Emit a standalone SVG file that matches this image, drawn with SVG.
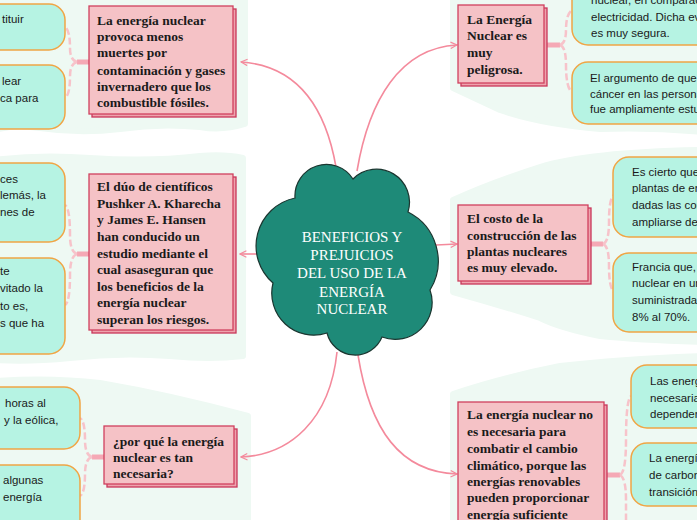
<svg xmlns="http://www.w3.org/2000/svg" width="697" height="520" viewBox="0 0 697 520">
<defs>
<style>
.bg{fill:#eef9f3;stroke:#eef9f3;stroke-width:6;stroke-linejoin:round}
.sh{fill:#eea3ad;stroke:#c9375a;stroke-width:1.3}
.pk{fill:#f5c2c6;stroke:#d0405e;stroke-width:1.3}
.tl{fill:#b6f3e3;stroke:#f0a545;stroke-width:1.5}
.pt{font-family:"Liberation Serif",serif;font-weight:bold;font-size:13.5px;fill:#1a1a1a}
.tt{font-family:"Liberation Sans",sans-serif;font-size:11.5px;fill:#1a1a1a}
.ct{font-family:"Liberation Serif",serif;font-size:15px;fill:#ffffff;text-anchor:middle}
.stub{stroke:#f5a9b5;stroke-width:5;fill:none}
.br{stroke:#f7c3ca;stroke-width:2.5;fill:none;stroke-dasharray:7 3}
.cn{stroke:#f48a9c;stroke-width:1.6;fill:none}
</style>
<marker id="ar" viewBox="0 0 10 10" refX="9" refY="5" markerWidth="8" markerHeight="8" orient="auto" markerUnits="userSpaceOnUse">
<path d="M1,1 L9,5 L1,9" fill="none" stroke="#f48a9c" stroke-width="1.5"/>
</marker>
</defs>
<rect width="697" height="520" fill="#ffffff"/>
<g id="backgrounds">
<path class="bg" d="M-5,-5 H245 V124 Q222,131 200,127 Q160,123 120,129 Q80,134 40,128 Q15,124 -5,130 Z"/>
<path class="bg" d="M-5,160 Q40,154 90,158 Q150,162 200,156 Q225,154 243,158 V356 Q210,360 170,356 Q120,352 70,358 Q30,362 -5,360 Z"/>
<path class="bg" d="M-5,381 Q50,377 100,383 Q170,395 248,416 V525 H-5 Z"/>
<path class="bg" d="M453,-5 H702 V132 Q650,127 600,129 Q540,124 500,110 Q470,96 453,88 Z"/>
<path class="bg" d="M453,200 Q490,183 540,167 Q590,152 702,150 V342 Q640,340 600,336 Q560,328 540,318 Q500,305 453,292 Z"/>
<path class="bg" d="M453,394 Q500,378 560,366 Q620,359 702,356 V525 H453 Z"/>
</g>
<g id="connectors">
<path class="cn" d="M336,167 C326,110 300,66 241,62" marker-end="url(#ar)"/>
<path class="cn" d="M357,171 C369,100 400,48 457,45" marker-end="url(#ar)"/>
<path class="cn" d="M258,254 L240,254" marker-end="url(#ar)"/>
<path class="cn" d="M436,245 L457,244" marker-end="url(#ar)"/>
<path class="cn" d="M337,352 C330,420 290,455 241,457" marker-end="url(#ar)"/>
<path class="cn" d="M358,355 C370,430 400,472 457,474" marker-end="url(#ar)"/>
<path class="stub" d="M89,62 H77"/>
<path class="br" d="M77,62 Q70,60 70,48 Q70,30 65,27 M77,62 Q70,64 70,76 Q70,95 65,98"/>
<path class="stub" d="M89,254 H77"/>
<path class="br" d="M77,254 Q70,252 70,235 Q70,208 65,205 M77,254 Q70,256 70,275 Q70,302 65,305"/>
<path class="stub" d="M104,457 H92"/>
<path class="br" d="M92,457 Q85,455 85,440 Q85,421 80,418 M92,457 Q85,459 85,474 Q85,493 80,496"/>
<path class="stub" d="M547,45 H560"/>
<path class="br" d="M560,45 Q566,43 566,30 Q566,14 572,10 M560,45 Q566,47 566,65 Q566,88 572,92"/>
<path class="stub" d="M590,244 H603"/>
<path class="br" d="M603,244 Q609,242 609,222 Q609,198 614,195 M603,244 Q609,246 609,266 Q609,288 614,292"/>
<path class="stub" d="M607,475 H620"/>
<path class="br" d="M620,475 Q626,472 626,440 Q626,400 631,396 M620,475 Q626,478 626,500 L626,525"/>
</g>
<g id="center">
<path d="M353,179 A33 33 0 0 1 408,212 A55 55 0 0 1 430,290 A37 37 0 0 1 382,337 A29 29 0 0 1 327,333 A42 42 0 0 1 273,283 A49 49 0 0 1 295,198 A31.5 31.5 0 0 1 353,179 Z" fill="#1e8a78" stroke="#1b3630" stroke-width="1.2"/>
<text class="ct" x="352" y="242">BENEFICIOS Y</text>
<text class="ct" x="352" y="260">PREJUICIOS </text>
<text class="ct" x="352" y="278">DEL USO DE LA</text>
<text class="ct" x="352" y="297">ENERGÍA</text>
<text class="ct" x="352" y="314">NUCLEAR</text>
</g>
<g id="n-left-top">
<rect class="sh" x="92" y="9" width="144" height="108"/>
<rect class="pk" x="89" y="6" width="144" height="108"/>
<text class="pt" x="97" y="25">La energía nuclear</text>
<text class="pt" x="97" y="41">provoca menos</text>
<text class="pt" x="97" y="57">muertes por</text>
<text class="pt" x="97" y="75">contaminación y gases</text>
<text class="pt" x="97" y="91">invernadero que los</text>
<text class="pt" x="97" y="107">combustible fósiles.</text>
</g>
<g id="n-left-top-a">
<rect class="tl" x="-120" y="4" width="185" height="46" rx="16"/>
<text class="tt" x="2" y="23">tituir</text>
</g>
<g id="n-left-top-b">
<rect class="tl" x="-120" y="65" width="185" height="64" rx="16"/>
<text class="tt" x="2" y="85">lear</text>
<text class="tt" x="0" y="102">ca para</text>
</g>
<g id="n-left-mid">
<rect class="sh" x="92" y="177" width="144" height="156"/>
<rect class="pk" x="89" y="174" width="144" height="156"/>
<text class="pt" x="97" y="191">El dúo de científicos</text>
<text class="pt" x="97" y="208">Pushker A. Kharecha</text>
<text class="pt" x="97" y="224">y James E. Hansen</text>
<text class="pt" x="97" y="241">han conducido un</text>
<text class="pt" x="97" y="258">estudio mediante el</text>
<text class="pt" x="97" y="274">cual asaseguran que</text>
<text class="pt" x="97" y="291">los beneficios de la</text>
<text class="pt" x="97" y="307">energía nuclear</text>
<text class="pt" x="97" y="324">superan los riesgos.</text>
</g>
<g id="n-left-mid-a">
<rect class="tl" x="-120" y="163" width="185" height="79" rx="16"/>
<text class="tt" x="0" y="183">ces</text>
<text class="tt" x="0" y="199">lemás, la</text>
<text class="tt" x="0" y="216">nes de</text>
</g>
<g id="n-left-mid-b">
<rect class="tl" x="-120" y="258" width="185" height="96" rx="16"/>
<text class="tt" x="0" y="275">te</text>
<text class="tt" x="0" y="292">vitado la</text>
<text class="tt" x="0" y="310">to es,</text>
<text class="tt" x="0" y="327">s que ha</text>
</g>
<g id="n-left-bot">
<rect class="sh" x="107" y="429" width="130" height="58"/>
<rect class="pk" x="104" y="426" width="130" height="58"/>
<text class="pt" x="113" y="446">¿por qué la energía</text>
<text class="pt" x="113" y="462">nuclear es tan</text>
<text class="pt" x="113" y="478">necesaria?</text>
</g>
<g id="n-left-bot-a">
<rect class="tl" x="-120" y="387" width="200" height="62" rx="16"/>
<text class="tt" x="5" y="407">horas al</text>
<text class="tt" x="4" y="424">y la eólica,</text>
</g>
<g id="n-left-bot-b">
<rect class="tl" x="-120" y="465" width="200" height="80" rx="16"/>
<text class="tt" x="3" y="484">algunas</text>
<text class="tt" x="3" y="501">energía</text>
</g>
<g id="n-right-top">
<rect class="sh" x="461" y="8" width="86" height="78"/>
<rect class="pk" x="458" y="5" width="86" height="78"/>
<text class="pt" x="467" y="24"> La Energía</text>
<text class="pt" x="467" y="40">Nuclear es</text>
<text class="pt" x="467" y="57">muy</text>
<text class="pt" x="467" y="74">peligrosa.</text>
</g>
<g id="n-right-top-a">
<rect class="tl" x="572" y="-30" width="200" height="75" rx="16"/>
<text class="tt" x="591" y="4">nuclear, en comparación</text>
<text class="tt" x="591" y="21">electricidad. Dicha evi</text>
<text class="tt" x="591" y="37">es muy segura.</text>
</g>
<g id="n-right-top-b">
<rect class="tl" x="572" y="62" width="200" height="62" rx="16"/>
<text class="tt" x="590" y="82">El argumento de que l</text>
<text class="tt" x="590" y="98">cáncer en las persona</text>
<text class="tt" x="590" y="113">fue ampliamente estud</text>
</g>
<g id="n-right-mid">
<rect class="sh" x="461" y="208" width="130" height="76"/>
<rect class="pk" x="458" y="205" width="130" height="76"/>
<text class="pt" x="467" y="223">El costo de la</text>
<text class="pt" x="467" y="240">construcción de las</text>
<text class="pt" x="467" y="256">plantas nucleares</text>
<text class="pt" x="467" y="272">es muy elevado.</text>
</g>
<g id="n-right-mid-a">
<rect class="tl" x="613" y="157" width="200" height="80" rx="16"/>
<text class="tt" x="632" y="176">Es cierto que</text>
<text class="tt" x="632" y="192">plantas de en</text>
<text class="tt" x="632" y="209">dadas las con</text>
<text class="tt" x="632" y="226">ampliarse de</text>
</g>
<g id="n-right-mid-b">
<rect class="tl" x="613" y="253" width="200" height="79" rx="16"/>
<text class="tt" x="632" y="271">Francia que,</text>
<text class="tt" x="632" y="287">nuclear en un</text>
<text class="tt" x="632" y="304">suministrada</text>
<text class="tt" x="632" y="321">8% al 70%.</text>
</g>
<g id="n-right-bot">
<rect class="sh" x="461" y="405" width="146" height="130"/>
<rect class="pk" x="458" y="402" width="146" height="130"/>
<text class="pt" x="467" y="419">La energía nuclear no</text>
<text class="pt" x="467" y="436">es necesaria para</text>
<text class="pt" x="467" y="453">combatir el cambio</text>
<text class="pt" x="467" y="470">climático, porque las</text>
<text class="pt" x="467" y="486">energías renovables</text>
<text class="pt" x="467" y="502">pueden proporcionar</text>
<text class="pt" x="467" y="519">energía suficiente</text>
</g>
<g id="n-right-bot-a">
<rect class="tl" x="631" y="365" width="200" height="63" rx="16"/>
<text class="tt" x="650" y="385">Las energ</text>
<text class="tt" x="650" y="402">necesaria</text>
<text class="tt" x="650" y="418">depender</text>
</g>
<g id="n-right-bot-b">
<rect class="tl" x="631" y="443" width="200" height="63" rx="16"/>
<text class="tt" x="649" y="462">La energí</text>
<text class="tt" x="649" y="479">de carbon</text>
<text class="tt" x="649" y="496">transición</text>
</g>
</svg>
